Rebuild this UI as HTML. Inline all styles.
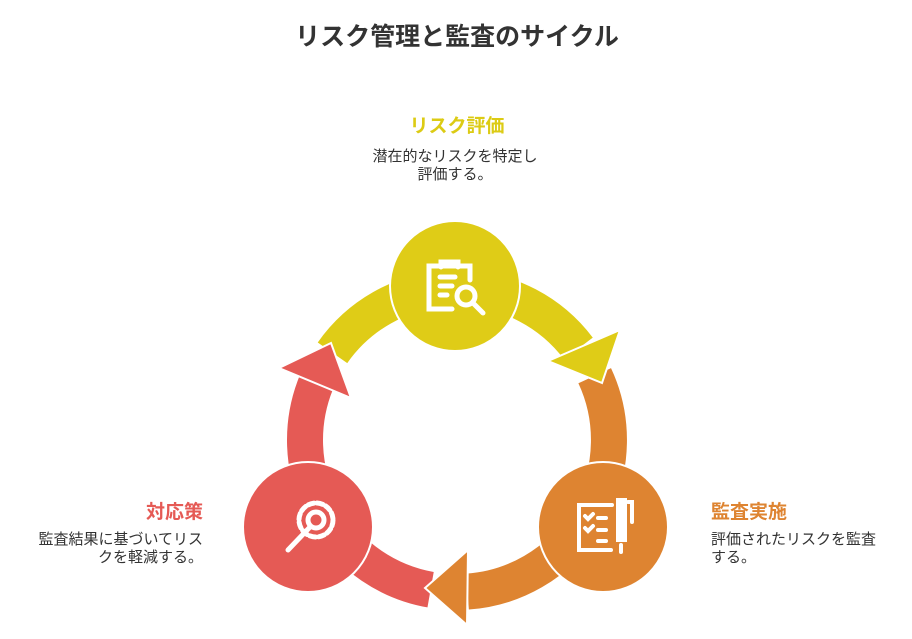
<!DOCTYPE html>
<html><head><meta charset="utf-8"><style>
html,body{margin:0;padding:0;background:#fff;}
body{width:912px;height:639px;position:relative;overflow:hidden;font-family:"Liberation Sans","Noto Sans CJK JP",sans-serif;}
.t{position:absolute;white-space:nowrap;}
.d{font-size:15px;color:#333;line-height:18px;}
.h{font-size:19px;font-weight:bold;}
</style></head><body>
<div class="t" style="left:0;width:914px;text-align:center;top:17px;font-size:25px;font-weight:bold;color:#333;">リスク管理と監査のサイクル</div>
<div class="t h" style="left:0;width:914px;text-align:center;top:111px;color:#dccb14;">リスク評価</div>
<div class="t d" style="left:0;width:910px;text-align:center;top:148px;">潜在的なリスクを特定し<br>評価する。</div>
<div class="t h" style="left:711px;top:497px;color:#de8431;">監査実施</div>
<div class="t d" style="left:711px;top:531px;">評価されたリスクを監査<br>する。</div>
<div class="t h" style="left:0;width:203px;text-align:right;top:497px;color:#e55a55;">対応策</div>
<div class="t d" style="left:0;width:203px;text-align:right;top:531px;">監査結果に基づいてリス<br>クを軽減する。</div>
<svg width="912" height="639" style="position:absolute;left:0;top:0">
<g fill="none" stroke-width="36">
<path d="M332.5,352.8 A152,152 0 0 1 578.4,348.5" stroke="#dfcc17"/>
<path d="M594.7,375.7 A152,152 0 0 1 467.6,591.6" stroke="#de8431"/>
<path d="M430.6,589.7 A152,152 0 0 1 316.1,383.0" stroke="#e55a55"/>
</g>
<polygon points="602,383 548,361 620,330" fill="#dfcc17" stroke="#fff" stroke-width="2"/>
<polygon points="425,588 468,550 467,625" fill="#de8431" stroke="#fff" stroke-width="2"/>
<polygon points="331,343 279,368 351,398" fill="#e55a55" stroke="#fff" stroke-width="2"/>
<circle cx="455" cy="286" r="65" fill="#dfcc17" stroke="#fff" stroke-width="2"/>
<circle cx="603" cy="527" r="65" fill="#de8431" stroke="#fff" stroke-width="2"/>
<circle cx="308" cy="527" r="65" fill="#e55a55" stroke="#fff" stroke-width="2"/>
<g stroke="#fff" stroke-width="5" fill="none" stroke-linecap="round">
<path d="M452,309 H429 V266 H470 V280"/>
<path d="M441,267 V262 H458 V267"/>
<line x1="440" y1="277" x2="455" y2="277"/><line x1="440" y1="286" x2="452" y2="286"/><line x1="440" y1="295" x2="447" y2="295"/>
<circle cx="466" cy="296" r="9"/><line x1="473" y1="303" x2="483" y2="313"/>
</g>
<g stroke="#fff" stroke-width="4" fill="none" stroke-linecap="round">
<path d="M611,550 H579 V505 H612"/>
<path d="M585,516 l3,3 5,-5 M585,528 l3,3 5,-5"/>
<line x1="598" y1="518" x2="606" y2="518"/><line x1="598" y1="530" x2="606" y2="530"/><line x1="598" y1="541" x2="606" y2="541"/>
<path d="M618,500 h7 v40 h-7 z" fill="#fff"/><line x1="621" y1="545" x2="621" y2="552"/><path d="M628,502 h4 v20"/>
</g>
<g stroke="#fff" stroke-width="5" fill="none" stroke-linecap="round">
<circle cx="316" cy="520" r="17" stroke-dasharray="6 3"/>
<circle cx="316" cy="520" r="8"/>
<line x1="310" y1="527" x2="288" y2="550"/>
</g>
</svg>
</body></html>
